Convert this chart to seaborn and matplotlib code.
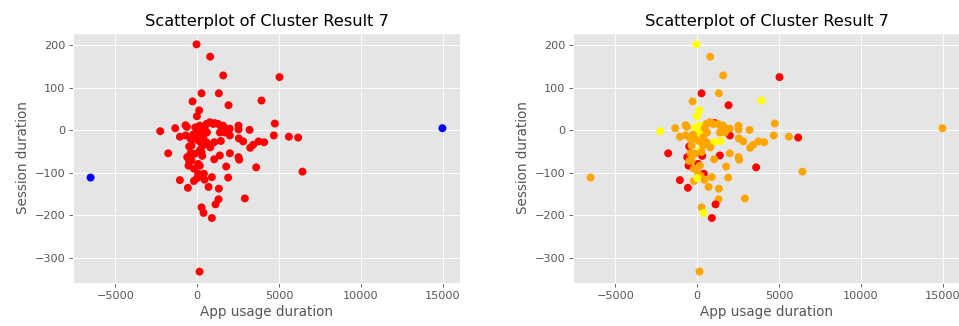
import matplotlib
matplotlib.use("Agg")
import matplotlib.pyplot as plt
import seaborn as sns
import pandas as pd

# App usage duration (x) and session duration (y) for each user
app_usage = [
    -41, 794, 1589, 5031, 265, 1324, -285, 3931, 1915, 122,
    -20, -2261, -1344, -713, -631, -1059, -1772, 4746, 4685, 5602,
    6172, 6437, -6518, 14992, 3198, 2526, 2526, 2811, 2546, 3239,
    3422, 3748, 4094, 2526, 2567, 3605, 1996, 1385, 1039, 1772,
    1894, 896, 1324, 693, 2913, 1304, 1120, 265, 387, 896,
    143, -1059, -570, -204, 61, -530, -611, -489, -407, -489,
    306, 61, 407, 204, 448, 0, 1996, 1080, 1039, 1446,
    306, 306, -122, 163, 159, -43, 159, 568, 774, 978,
    1487, 1385, 1691, 367, 570, 367, -697, 1280, 1585, 1990,
    -348, -147, 263, -348, 159, -147, 600, 800, 450, -250,
    -400, 100, -200,
]
session = [
    202, 173, 129, 125, 87, 87, 68, 70, 59, 47,
    33, -2, 5, 12, 8, -15, -54, 16, -12, -15,
    -17, -97, -111, 5, 1, 11, 2, -26, -19, -41,
    -34, -26, -28, -63, -69, -87, -54, -59, -68, -85,
    -111, -110, -137, -133, -160, -162, -174, -181, -194, -206,
    -332, -117, -135, -119, -79, -83, -63, -38, -54, -72,
    -60, -102, -102, -107, -116, -112, -12, 17, -28, -25,
    -36, -1, 7, 2, 11, -8, -47, 15, 19, 15,
    7, -5, -5, -16, -28, -35, -12, 15, 11, 4,
    -36, -55, -51, -71, -83, -20, -5, -40, 5, -10,
    -20, -25, -90,
]

# Two-cluster result: the two extreme users form their own group
labels_k2 = ["main"] * len(app_usage)
labels_k2[22] = "outlier"
labels_k2[23] = "outlier"

# Three-cluster result
labels_k3 = [
    "Y", "O", "O", "R", "R", "O", "O", "Y", "R", "Y",
    "Y", "Y", "O", "O", "O", "O", "R", "O", "O", "O",
    "R", "O", "O", "O", "O", "O", "O", "O", "O", "O",
    "O", "O", "O", "O", "O", "R", "O", "R", "O", "O",
    "O", "O", "O", "O", "O", "O", "R", "O", "Y", "R",
    "O", "R", "R", "O", "R", "R", "R", "R", "O", "O",
    "R", "O", "R", "O", "O", "Y", "R", "R", "Y", "Y",
    "Y", "Y", "Y", "Y", "Y", "Y", "Y", "O", "O", "O",
    "O", "O", "O", "O", "O", "O", "O", "O", "O", "O",
    "O", "O", "O", "O", "O", "O", "O", "O", "O", "O",
    "O", "O", "O",
]

df = pd.DataFrame({
    "App usage duration": app_usage,
    "Session duration": session,
    "k2": labels_k2,
    "k3": labels_k3,
})

plt.style.use("ggplot")
W, H, DPI = 959, 326, 81
fig = plt.figure(figsize=(W / DPI, H / DPI), dpi=DPI)
ax1 = fig.add_axes([73 / W, 43 / H, 387 / W, 250 / H])
ax2 = fig.add_axes([573 / W, 43 / H, 387 / W, 250 / H])

sns.scatterplot(data=df, x="App usage duration", y="Session duration",
                hue="k2", palette={"main": "#ff0000", "outlier": "#0000ff"},
                s=50, linewidth=0, alpha=1, legend=False, ax=ax1)
sns.scatterplot(data=df, x="App usage duration", y="Session duration",
                hue="k3", palette={"R": "#ff0000", "O": "#ffa500", "Y": "#ffff00"},
                s=50, linewidth=0, alpha=1, legend=False, ax=ax2)

for ax in (ax1, ax2):
    ax.set_title("Scatterplot of Cluster Result 7")
    ax.set_xlabel("App usage duration")
    ax.set_ylabel("Session duration")
    ax.set_xticks([-5000, 0, 5000, 10000, 15000])
    ax.set_yticks([-300, -200, -100, 0, 100, 200])

fig.savefig("out.png", dpi=DPI)
